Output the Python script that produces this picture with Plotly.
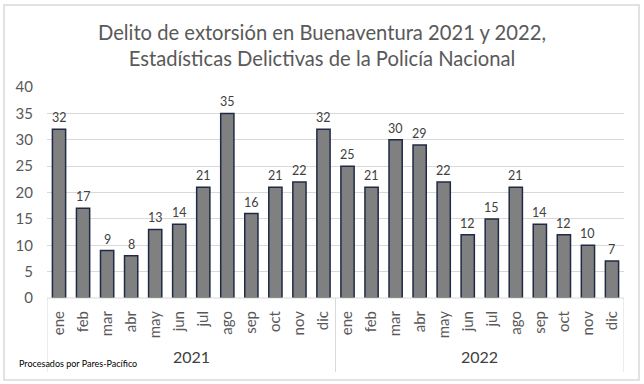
import plotly.graph_objects as go

months = ["ene", "feb", "mar", "abr", "may", "jun", "jul", "ago", "sep", "oct", "nov", "dic"]
years = ["2021", "2022"]
values_2021 = [32, 17, 9, 8, 13, 14, 21, 35, 16, 21, 22, 32]
values_2022 = [25, 21, 30, 29, 22, 12, 15, 21, 14, 12, 10, 7]
y_ticks = [0, 5, 10, 15, 20, 25, 30, 35, 40]

values = values_2021 + values_2022
labels = months + months
xpos = list(range(len(values)))

W, H = 644, 384
L, R, T, B = 47, 20, 87, 86
pw, ph = W - L - R, H - T - B

def px(xp):
    return (xp - L) / pw

def py(yp):
    return (H - B - yp) / ph

FONT = "Lato, sans-serif"

fig = go.Figure()
fig.add_trace(go.Bar(
    x=xpos, y=values,
    width=0.55,
    marker=dict(color="#808080", line=dict(color="#1f2a44", width=1.5)),
    hoverinfo="skip",
))

shapes = []
# outer border
shapes.append(dict(type="rect", xref="paper", yref="paper",
                   x0=px(4), x1=px(639), y0=py(380), y1=py(5),
                   line=dict(color="#d9d9d9", width=1.5), fillcolor="rgba(0,0,0,0)", layer="below"))
# baseline
shapes.append(dict(type="line", xref="x", yref="paper", x0=-0.5, x1=len(values) - 0.5,
                   y0=0, y1=0, line=dict(color="#d9d9d9", width=1)))
# group separators
for xv in [-0.5, len(months) - 0.5, len(values) - 0.5]:
    shapes.append(dict(type="line", xref="x", yref="paper", x0=xv, x1=xv,
                       y0=py(372), y1=0, line=dict(color="#d9d9d9", width=1)))

annotations = []
# data labels
for xv, v in zip(xpos, values):
    annotations.append(dict(x=xv, y=v, xref="x", yref="y", yanchor="bottom", yshift=2,
                            text=str(v), showarrow=False,
                            font=dict(size=12.5, color="#404040", family=FONT)))
for i, yr in enumerate(years):
    annotations.append(dict(x=i * len(months) + (len(months) - 1) / 2, y=py(356), xref="x", yref="paper",
                            yanchor="middle",
                            text=yr, showarrow=False, font=dict(size=16, color="#404040", family=FONT)))
annotations.append(dict(x=px(17), y=py(363), xref="paper", yref="paper", xanchor="left", yanchor="middle",
                        text="Procesados por Pares-Pacífico", showarrow=False,
                        font=dict(size=9, color="#000000", family=FONT)))

fig.update_layout(
    width=W, height=H,
    margin=dict(l=L, r=R, t=T, b=B),
    paper_bgcolor="white", plot_bgcolor="white",
    title=dict(text="Delito de extorsión en Buenaventura 2021 y 2022,<br>Estadísticas Delictivas de la Policía Nacional",
               x=0.5, xanchor="center", y=1 - 40 / H, yanchor="middle",
               font=dict(size=20.2, color="#595959", family=FONT)),
    showlegend=False,
    shapes=shapes,
    annotations=annotations,
    xaxis=dict(tickmode="array", tickvals=xpos, ticktext=labels, tickangle=-90,
               range=[-0.5, len(values) - 0.5], showgrid=False, zeroline=False,
               showline=False, ticks="", ticklabelstandoff=9,
               tickfont=dict(size=15, color="#595959", family=FONT)),
    yaxis=dict(range=[0, 40], tickmode="array", tickvals=y_ticks, showgrid=True,
               gridcolor="#d9d9d9", gridwidth=1, zeroline=False, showline=False, ticks="",
               ticklabelstandoff=13,
               tickfont=dict(size=15, color="#595959", family=FONT)),
)

fig.write_html("out.html", config={"displayModeBar": False},
               post_script="document.body.style.margin='0';")
